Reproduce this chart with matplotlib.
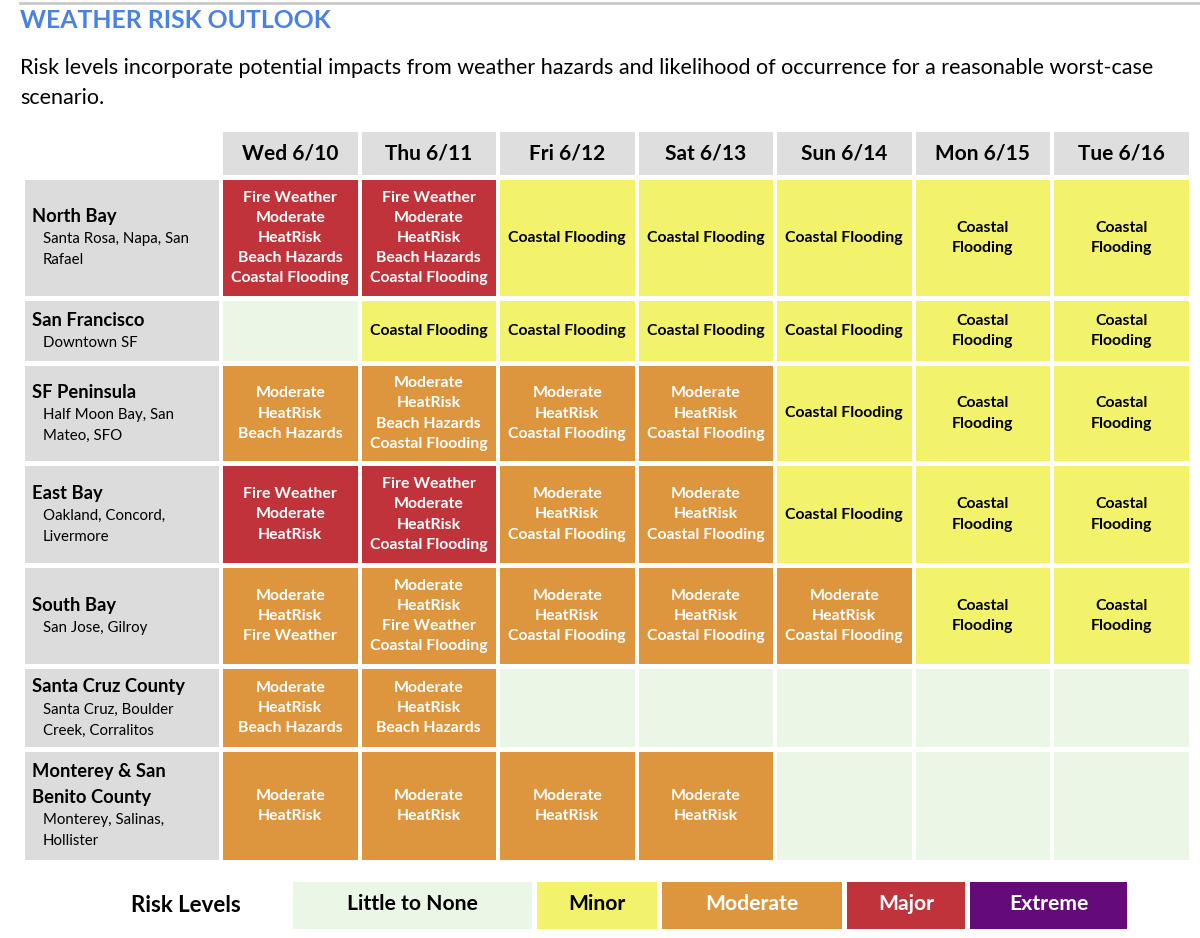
import numpy as np
import matplotlib.pyplot as plt
from matplotlib.patches import Rectangle

plt.rcParams['font.family'] = ['Lato', 'DejaVu Sans']

days = ['Wed 6/10', 'Thu 6/11', 'Fri 6/12', 'Sat 6/13', 'Sun 6/14', 'Mon 6/15', 'Tue 6/16']
regions = ['North Bay', 'San Francisco', 'SF Peninsula', 'East Bay', 'South Bay',
           'Santa Cruz County', 'Monterey & San\nBenito County']
places = ['Santa Rosa, Napa, San\nRafael', 'Downtown SF', 'Half Moon Bay, San\nMateo, SFO',
          'Oakland, Concord,\nLivermore', 'San Jose, Gilroy', 'Santa Cruz, Boulder\nCreek, Corralitos',
          'Monterey, Salinas,\nHollister']

# 0 little/none, 1 minor, 2 moderate, 3 major, 4 extreme
risk = np.array([
    [3, 3, 1, 1, 1, 1, 1],
    [0, 1, 1, 1, 1, 1, 1],
    [2, 2, 2, 2, 1, 1, 1],
    [3, 3, 2, 2, 1, 1, 1],
    [2, 2, 2, 2, 2, 1, 1],
    [2, 2, 0, 0, 0, 0, 0],
    [2, 2, 2, 2, 0, 0, 0],
])

CF = 'Coastal Flooding'
CF2 = 'Coastal\nFlooding'
MH = 'Moderate\nHeatRisk'
hazards = [
    ['Fire Weather\n' + MH + '\nBeach Hazards\n' + CF, 'Fire Weather\n' + MH + '\nBeach Hazards\n' + CF,
     CF, CF, CF, CF2, CF2],
    ['', CF, CF, CF, CF, CF2, CF2],
    [MH + '\nBeach Hazards', MH + '\nBeach Hazards\n' + CF, MH + '\n' + CF, MH + '\n' + CF, CF, CF2, CF2],
    ['Fire Weather\n' + MH, 'Fire Weather\n' + MH + '\n' + CF, MH + '\n' + CF, MH + '\n' + CF, CF, CF2, CF2],
    [MH + '\nFire Weather', MH + '\nFire Weather\n' + CF, MH + '\n' + CF, MH + '\n' + CF, MH + '\n' + CF,
     CF2, CF2],
    [MH + '\nBeach Hazards', MH + '\nBeach Hazards', '', '', '', '', ''],
    [MH, MH, MH, MH, '', '', ''],
]

level_names = ['Little to None', 'Minor', 'Moderate', 'Major', 'Extreme']
level_colors = ['#ebf7e6', '#f2f26b', '#dd953e', '#c1333b', '#650a79']
level_text = ['black', 'black', 'white', 'white', 'white']

# layout (pixels)
col_x0, col_w, col_pitch = 223, 134.5, 138.5
lab_x0, lab_w = 25, 194
row_tops = [180, 301, 366, 466, 568, 669, 752]
row_bots = [296, 361, 461, 563, 664, 747, 860]
head_top, head_bot = 132, 175

fig = plt.figure(figsize=(12, 9.38), dpi=100)
ax = fig.add_axes([0, 0, 1, 1])
ax.set_xlim(0, 1200)
ax.set_ylim(938, 0)
ax.axis('off')

ax.plot([20, 1200], [3, 3], color='#c8c8c8', lw=2)
ax.text(20, 20, 'WEATHER RISK OUTLOOK', fontsize=17.8, fontweight='bold', color='#4a82e4', va='center')
ax.text(20, 68, 'Risk levels incorporate potential impacts from weather hazards and likelihood of occurrence '
        'for a reasonable worst-case', fontsize=15.5, va='center')
ax.text(20, 98, 'scenario.', fontsize=15.5, va='center')

for j, d in enumerate(days):
    x = col_x0 + j * col_pitch
    ax.add_patch(Rectangle((x, head_top), col_w, head_bot - head_top, color='#dedede', lw=0))
    ax.text(x + col_w / 2, (head_top + head_bot) / 2, d, fontsize=15, fontweight='bold',
            ha='center', va='center')

for i in range(len(regions)):
    top, bot = row_tops[i], row_bots[i]
    ax.add_patch(Rectangle((lab_x0, top), lab_w, bot - top, color='#dcdcdc', lw=0))
    name_lines = regions[i].split('\n')
    sub_lines = places[i].split('\n')
    n_h = 25 * len(name_lines)
    s_h = 21 * len(sub_lines)
    y = (top + bot) / 2 - (n_h + s_h) / 2 + 12
    for ln in name_lines:
        ax.text(32, y, ln, fontsize=13.2, fontweight='bold', va='center')
        y += 25
    y -= 2
    for ln in sub_lines:
        ax.text(43, y, ln, fontsize=10.8, va='center')
        y += 21
    for j in range(len(days)):
        x = col_x0 + j * col_pitch
        lv = risk[i, j]
        ax.add_patch(Rectangle((x, top), col_w, bot - top, color=level_colors[lv], lw=0))
        if hazards[i][j]:
            ax.text(x + col_w / 2, (top + bot) / 2, hazards[i][j], fontsize=11.4, fontweight='bold',
                    color=level_text[lv], ha='center', va='center', linespacing=1.55)

ax.text(186, 905, 'Risk Levels', fontsize=16, fontweight='bold', ha='center', va='center')
leg_x = [293, 537, 662, 847, 970]
leg_w = [239, 120, 180, 118, 157]
for k, name in enumerate(level_names):
    ax.add_patch(Rectangle((leg_x[k], 882), leg_w[k], 47, color=level_colors[k], lw=0))
    ax.text(leg_x[k] + leg_w[k] / 2, 904, name, fontsize=15.2, fontweight='bold',
            color=level_text[k], ha='center', va='center')

fig.savefig('out.png', dpi=100)
